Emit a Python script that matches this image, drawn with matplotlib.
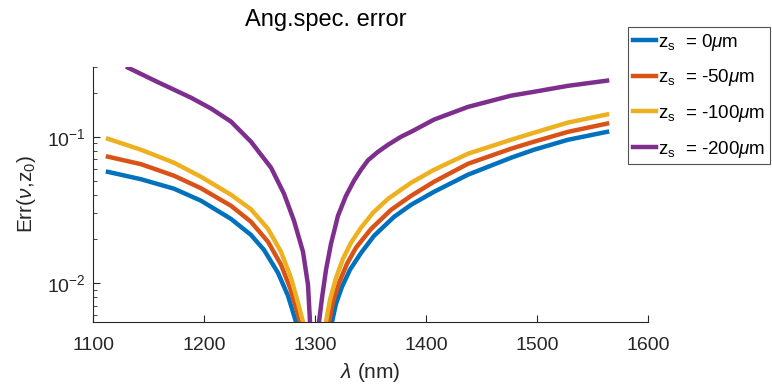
import matplotlib
matplotlib.use('Agg')
import matplotlib.pyplot as plt

plt.rcParams['font.family'] = 'Liberation Sans'
plt.rcParams['mathtext.fontset'] = 'custom'
plt.rcParams['mathtext.rm'] = 'Liberation Sans'
plt.rcParams['mathtext.it'] = 'Liberation Sans:italic'

# valeurs : lambda (nm) et erreur, branche gauche + branche droite
# (le point vers 1300 nm est sous l'axe, il ne sert qu'a relier les deux branches)
lam_blue = [1113.5, 1143.2, 1173.0, 1197.3, 1224.3, 1242.3, 1254.1, 1266.7, 1275.7, 1282.9, 1300.0,
            1315.3, 1318.9, 1324.3, 1331.5, 1341.4, 1353.2, 1371.2, 1386.5, 1407.2, 1437.8, 1476.6, 1497.3, 1527.9, 1563.1]
err_blue = [0.0575, 0.0512, 0.0441, 0.0365, 0.0274, 0.0213, 0.0168, 0.0117, 0.00815, 0.0054, 0.001,
            0.0054, 0.00718, 0.0094, 0.0123, 0.0160, 0.0210, 0.0283, 0.0342, 0.0420, 0.0550, 0.0718, 0.0815, 0.0953, 0.108]

lam_orange = [1113.5, 1143.2, 1173.0, 1197.3, 1224.3, 1242.3, 1257.7, 1269.4, 1277.5, 1283.8, 1286.5, 1300.0,
              1312.6, 1316.2, 1321.6, 1328.8, 1336.9, 1350.5, 1368.5, 1386.5, 1407.2, 1437.8, 1476.6, 1497.3, 1527.9, 1563.1]
err_orange = [0.0730, 0.0649, 0.0541, 0.0444, 0.0337, 0.0262, 0.0191, 0.0133, 0.00925, 0.00643, 0.0054, 0.001,
              0.0054, 0.00741, 0.0100, 0.0135, 0.0174, 0.0234, 0.0316, 0.0394, 0.0492, 0.0653, 0.0828, 0.0925, 0.108, 0.123]

lam_yellow = [1113.5, 1143.2, 1173.0, 1197.3, 1224.3, 1242.3, 1257.7, 1269.4, 1278.4, 1284.7, 1289.2, 1300.0,
              1309.9, 1313.5, 1318.9, 1325.2, 1332.4, 1341.4, 1352.3, 1365.8, 1386.5, 1407.2, 1437.8, 1476.6, 1497.3,
              1527.9, 1563.1]
err_yellow = [0.0968, 0.0815, 0.0664, 0.0532, 0.0401, 0.0319, 0.0234, 0.0163, 0.0108, 0.0073, 0.0054, 0.001,
              0.0054, 0.00766, 0.0108, 0.0146, 0.0188, 0.0238, 0.0302, 0.0376, 0.0484, 0.0594, 0.0765, 0.0953, 0.1065,
              0.125, 0.142]

lam_purple = [1131.5, 1158.6, 1188.3, 1206.3, 1224.3, 1242.3, 1260.4, 1272.1, 1281.1, 1289.2, 1293.7, 1295.5, 1299.5,
              1303.6, 1306.3, 1309.9, 1314.4, 1320.7, 1327.9, 1335.1, 1341.4, 1347.7, 1356.8, 1365.8, 1377.5, 1386.5,
              1407.2, 1437.8, 1476.6, 1497.3, 1527.9, 1563.1]
err_purple = [0.297, 0.236, 0.185, 0.156, 0.127, 0.0925, 0.0614, 0.0407, 0.0266, 0.0163, 0.00968, 0.0054, 0.001,
              0.0054, 0.00789, 0.01227, 0.0185, 0.0288, 0.0394, 0.0500, 0.0594, 0.0690, 0.0789, 0.0881, 0.100, 0.108,
              0.131, 0.160, 0.191, 0.203, 0.223, 0.242]

labels = [r'z$_\mathregular{s}$  = 0$\mu$m', r'z$_\mathregular{s}$  = -50$\mu$m',
          r'z$_\mathregular{s}$  = -100$\mu$m', r'z$_\mathregular{s}$  = -200$\mu$m']
couleurs = ['#0072BD', '#D95319', '#EDB120', '#7E2F8E']

fig = plt.figure(figsize=(7.72, 3.90), dpi=100)
ax = fig.add_axes([93/772, 1-322/390, (648-93)/772, (322-67)/390])

series = [(lam_blue, err_blue), (lam_orange, err_orange), (lam_yellow, err_yellow), (lam_purple, err_purple)]
for (l, e), c, lab in zip(series, couleurs, labels):
    ax.plot(l, e, color=c, lw=3.2, label=lab, solid_joinstyle='round')

ax.set_yscale('log')
ax.set_xlim(1100, 1600)
ax.set_ylim(0.0054, 0.3)
ax.set_xticks([1100, 1200, 1300, 1400, 1500, 1600])
for s in ['top', 'right']:
    ax.spines[s].set_visible(False)
for s in ['left', 'bottom']:
    ax.spines[s].set_color('#262626')
    ax.spines[s].set_linewidth(0.8)
ax.tick_params(axis='both', which='both', direction='in', colors='#262626', labelsize=14, labelcolor='#262626')
ax.tick_params(axis='x', pad=11)
ax.tick_params(axis='y', pad=5)
ax.tick_params(which='major', length=5)
ax.tick_params(which='minor', length=3)
ax.set_xlabel(r'$\lambda$ (nm)', fontsize=15, color='#262626', labelpad=5)
ax.set_ylabel(r'Err($\nu$,z$_\mathregular{0}$)', fontsize=15, color='#262626', labelpad=7)

fig.text(326/772, 1-20/390, 'Ang.spec. error', fontsize=17, ha='center', va='center')

leg = ax.legend(loc='upper left', bbox_to_anchor=(628/772, 1-27/390), bbox_transform=fig.transFigure,
                fontsize=13.5, handlelength=1.25, handletextpad=0.12, borderpad=0.25, labelspacing=0.78,
                frameon=True, fancybox=False, borderaxespad=0)
leg.get_frame().set_edgecolor('#262626')
leg.get_frame().set_linewidth(0.8)

plt.savefig('out.png', dpi=100)
